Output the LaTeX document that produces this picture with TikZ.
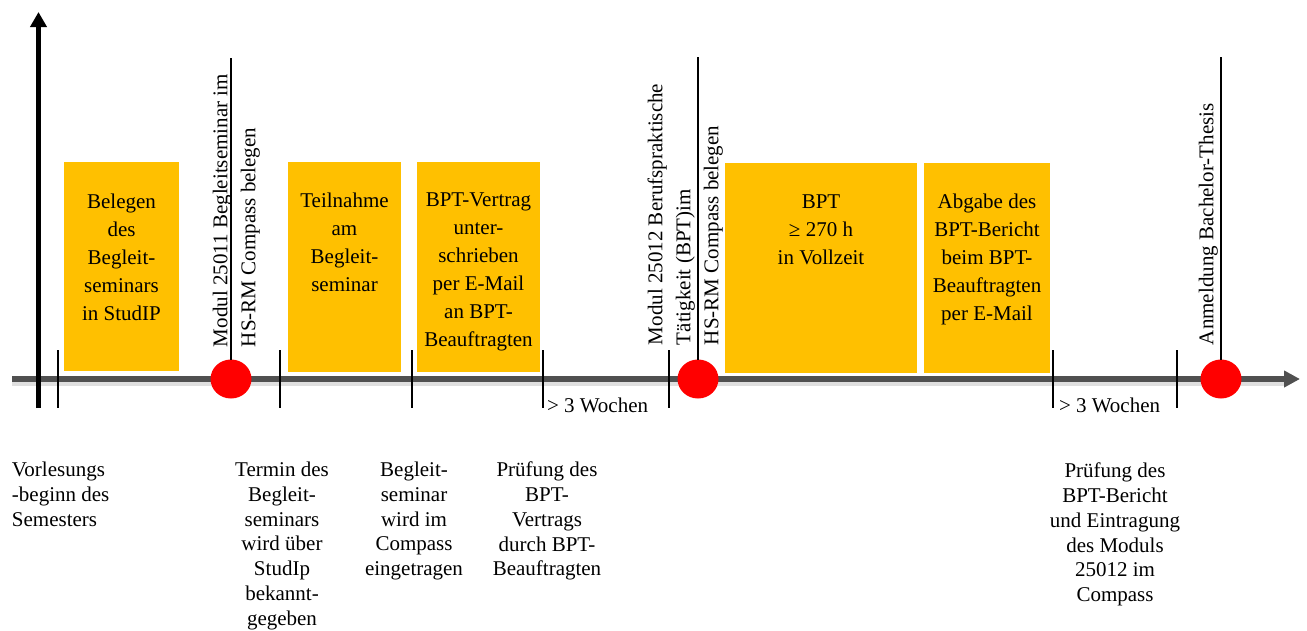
\documentclass[tikz,border=0pt]{standalone}
\usepackage{fontspec}
\setmainfont{Liberation Serif}
\usetikzlibrary{arrows.meta,shapes.geometric}
\definecolor{boxorange}{HTML}{FFC000}
\definecolor{axisgray}{HTML}{505050}
\begin{document}
\begin{tikzpicture}[x=1pt,y=-1pt,
  every node/.style={inner sep=0pt,outer sep=0pt},
  phase/.style={fill=boxorange,draw=none,anchor=north west},
  boxtext/.style={font=\fontsize{21}{28}\selectfont,align=center,anchor=north},
  botlabel/.style={font=\fontsize{21}{24.8}\selectfont,align=center,anchor=north},
  vlabel/.style={font=\fontsize{21}{28}\selectfont,align=left,rotate=90,anchor=north west},
  weeks/.style={font=\fontsize{21}{24}\selectfont,anchor=base west},
  tickline/.style={line width=1.5pt,black},
  stem/.style={line width=1.8pt,black},
  milestone/.style={ellipse,fill=red,draw=none,minimum width=41pt,minimum height=39pt},
  axisline/.style={line width=5.5pt,axisgray,-{Triangle[length=16pt,width=16pt]}},
  shadowline/.style={line width=6pt,black!18,opacity=0.7},
  timearrow/.style={line width=5pt,black,-{Triangle[length=15pt,width=16pt]}}]
\useasboundingbox (0,0) rectangle (1307,630);

% axis
\coordinate (axS) at (12,379);
\coordinate (axE) at (1300,379);
\coordinate (axSh) at (1284,379);
\draw[shadowline,transform canvas={yshift=-4pt}] (axS) -- (axSh);
\draw[axisline] (axS) -- (axE);

% vertical time arrow
\coordinate (vS) at (38.5,408);
\coordinate (vE) at (38.5,12);
\draw[timearrow] (vS) -- (vE);

% orange phase boxes
\node[phase,minimum width=115pt,minimum height=209pt] (b1) at (64,162) {};
\node[phase,minimum width=113pt,minimum height=210pt] (b2) at (288,162) {};
\node[phase,minimum width=123pt,minimum height=210pt] (b3) at (417,162) {};
\node[phase,minimum width=192pt,minimum height=210pt] (b4) at (725,163) {};
\node[phase,minimum width=126pt,minimum height=210pt] (b5) at (924,163) {};

\node[boxtext] (t1) at ([yshift=-32pt]b1.north) {Belegen\\des\\Begleit-\\seminars\\in StudIP};
\node[boxtext] (t2) at ([yshift=-31pt]b2.north) {Teilnahme\\am\\Begleit-\\seminar};
\node[boxtext] (t3) at ([yshift=-31pt]b3.north) {BPT-Vertrag\\unter-\\schrieben\\per E-Mail\\an BPT-\\Beauftragten};
\node[boxtext] (t4) at ([yshift=-32pt]b4.north) {BPT\\≥ 270 h\\in Vollzeit};
\node[boxtext] (t5) at ([yshift=-31pt]b5.north) {Abgabe des\\BPT-Bericht\\beim BPT-\\Beauftragten\\per E-Mail};

% ticks
\foreach \n/\x in {k1/58,k2/280,k3/412,k4/543,k5/669,k6/1053,k7/1177}{
  \coordinate (\n a) at (\x,350);
  \coordinate (\n b) at (\x,408);
  \draw[tickline] (\n a) -- (\n b);
}

% milestones
\node[milestone] (m1) at (231,379) {};
\node[milestone] (m2) at (698,379) {};
\node[milestone] (m3) at (1221,379) {};
\coordinate (m1top) at (231,58);
\coordinate (m2top) at (698,57);
\coordinate (m3top) at (1221,57);
\draw[stem] (m1top) -- (m1.north);
\draw[stem] (m2top) -- (m2.north);
\draw[stem] (m3top) -- (m3.north);

% rotated labels
\node[vlabel] (r1) at (212.7,347) {Modul 25011 Begleitseminar im\\HS-RM Compass belegen};
\node[vlabel] (r2) at (647.7,345) {Modul 25012 Berufspraktische\\Tätigkeit (BPT)im\\HS-RM Compass belegen};
\node[vlabel] (r3) at (1198.7,345) {Anmeldung Bachelor-Thesis};

% weeks
\node[weeks] (w1) at (547,412) {> 3 Wochen};
\node[weeks] (w2) at (1059,412) {> 3 Wochen};

% bottom labels
\node[botlabel,align=left,anchor=north west] (l1) at (12,462) {Vorlesungs\\-beginn des\\Semesters};
\node[botlabel] (l2) at (282,462) {Termin des\\Begleit-\\seminars\\wird über\\StudIp\\bekannt-\\gegeben};
\node[botlabel] (l3) at (414,462) {Begleit-\\seminar\\wird im\\Compass\\eingetragen};
\node[botlabel] (l4) at (547,462) {Prüfung des\\BPT-\\Vertrags\\durch BPT-\\Beauftragten};
\node[botlabel] (l5) at (1115,463) {Prüfung des\\BPT-Bericht\\und Eintragung\\des Moduls\\25012 im\\Compass};
\end{tikzpicture}
\end{document}
